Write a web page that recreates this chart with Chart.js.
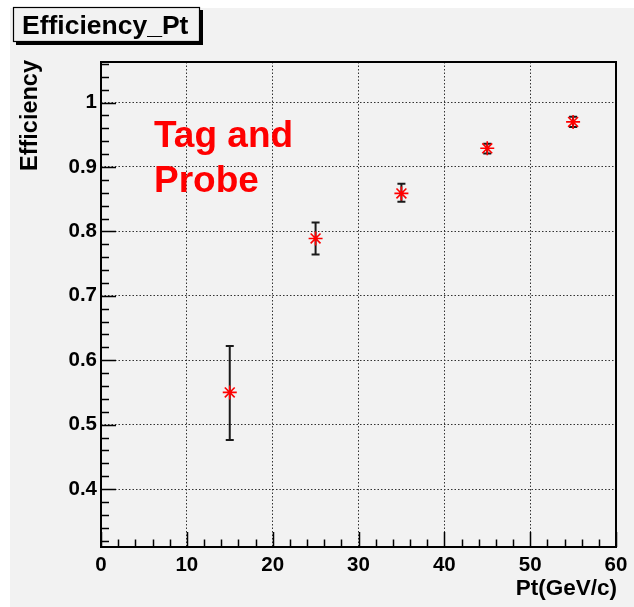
<!DOCTYPE html>
<html>
<head>
<meta charset="utf-8">
<script src="https://cdn.jsdelivr.net/npm/chart.js@4/dist/chart.umd.min.js"></script>
<style>
html,body{margin:0;padding:0;background:#fff;}
#wrap{position:absolute;left:0;top:0;width:634px;height:607px;}
</style>
</head>
<body>
<div id="wrap"><canvas id="c" width="634" height="607"></canvas></div>
<script>
// ---- data ----
const ptValues = [15, 25, 35, 45, 55];
const efficiency = [0.550, 0.789, 0.859, 0.929, 0.970];
const errUpper = [0.622, 0.814, 0.874, 0.936, 0.978];
const errLower = [0.476, 0.764, 0.846, 0.921, 0.962];
const xTicks = [0, 10, 20, 30, 40, 50, 60];
const yTicks = [0.4, 0.5, 0.6, 0.7, 0.8, 0.9, 1.0];
const titleText = 'Efficiency_Pt';
const xTitle = 'Pt(GeV/c)';
const yTitle = 'Efficiency';
const noteLines = ['Tag and', 'Probe'];

const FONT = '"Liberation Sans", Arial, Helvetica, sans-serif';
const PAD = '#f2f2f2';

const points = ptValues.map((x, i) => ({x: x, y: efficiency[i]}));

const decor = {
  id: 'decor',
  beforeDraw(chart) {
    const ctx = chart.ctx;
    ctx.save();
    ctx.fillStyle = '#ffffff';
    ctx.fillRect(0, 0, chart.width, chart.height);
    ctx.fillStyle = PAD;
    ctx.fillRect(10, 8, chart.width - 10, chart.height - 8);
    ctx.restore();
  },
  beforeDatasetsDraw(chart) {
    // error bars
    const ctx = chart.ctx, xs = chart.scales.x, ys = chart.scales.y;
    ctx.save();
    ctx.strokeStyle = '#1a1a1a';
    ctx.lineWidth = 2;
    ptValues.forEach((v, i) => {
      const px = xs.getPixelForValue(v);
      const top = ys.getPixelForValue(errUpper[i]);
      const bot = ys.getPixelForValue(errLower[i]);
      ctx.beginPath();
      ctx.moveTo(px, top); ctx.lineTo(px, bot);
      ctx.moveTo(px - 4, top); ctx.lineTo(px + 4, top);
      ctx.moveTo(px - 4, bot); ctx.lineTo(px + 4, bot);
      ctx.stroke();
    });
    ctx.restore();
  },
  afterDraw(chart) {
    const ctx = chart.ctx, xs = chart.scales.x, ys = chart.scales.y;
    const a = chart.chartArea;
    ctx.save();
    // frame
    ctx.strokeStyle = '#000';
    ctx.lineWidth = 2;
    ctx.strokeRect(a.left, a.top, a.right - a.left, a.bottom - a.top);
    // inner ticks x
    ctx.lineWidth = 1.5;
    ctx.beginPath();
    for (let v = xs.min; v <= xs.max + 1e-9; v += 2) {
      const px = Math.round(xs.getPixelForValue(v)) + 0.5;
      const len = (Math.abs(v % 10) < 1e-6) ? 15 : 7.5;
      ctx.moveTo(px, a.bottom); ctx.lineTo(px, a.bottom - len);
    }
    // inner ticks y
    for (let k = 16; k <= 53; k++) {
      const v = k * 0.02;
      if (v < ys.min || v > ys.max) continue;
      const py = Math.round(ys.getPixelForValue(v)) + 0.5;
      const len = (k % 5 === 0) ? 15 : 8;
      ctx.moveTo(a.left, py); ctx.lineTo(a.left + len, py);
    }
    ctx.stroke();

    // axis titles
    ctx.fillStyle = '#000';
    ctx.font = 'bold 22.5px ' + FONT;
    ctx.textAlign = 'right';
    ctx.textBaseline = 'alphabetic';
    ctx.fillText(xTitle, a.right + 1, 595);
    ctx.save();
    ctx.font = 'bold 23.5px ' + FONT;
    ctx.translate(37, 60);
    ctx.rotate(-Math.PI / 2);
    ctx.textAlign = 'right';
    ctx.fillText(yTitle, 0, 0);
    ctx.restore();

    // title box
    ctx.fillStyle = '#000';
    ctx.fillRect(16, 10, 187, 35);
    ctx.fillStyle = PAD;
    ctx.fillRect(13, 7, 187, 35);
    ctx.strokeStyle = '#000';
    ctx.lineWidth = 1.2;
    ctx.strokeRect(13.5, 7.5, 186, 34);
    ctx.fillStyle = '#000';
    ctx.font = 'bold 26.5px ' + FONT;
    ctx.textAlign = 'left';
    ctx.fillText(titleText, 22, 34);

    // note
    ctx.fillStyle = '#ff0000';
    ctx.font = 'bold 37px ' + FONT;
    ctx.fillText(noteLines[0], 154, 147);
    ctx.fillText(noteLines[1], 154, 192);
    ctx.restore();
  }
};

new Chart(document.getElementById('c'), {
  type: 'scatter',
  data: {
    datasets: [{
      data: points,
      pointStyle: 'star',
      pointRadius: 7,
      pointHoverRadius: 7,
      borderColor: '#ff0000',
      backgroundColor: '#ff0000',
      pointBorderWidth: 1.6,
      showLine: false
    }]
  },
  options: {
    responsive: false,
    animation: false,
    events: [],
    layout: {padding: {top: 62, right: 18, left: 0, bottom: 0}},
    plugins: {legend: {display: false}, tooltip: {enabled: false}},
    scales: {
      x: {
        type: 'linear', min: 0, max: 60,
        afterFit(s) { s.height = 60; },
        afterBuildTicks(s) { s.ticks = xTicks.map(v => ({value: v})); },
        grid: {color: '#333', lineWidth: 1, drawTicks: false},
        border: {display: false, dash: [1.5, 2]},
        ticks: {
          padding: 6, color: '#000', maxRotation: 0,
          font: {family: FONT, size: 20.5, weight: 'bold'},
          callback: v => String(v)
        }
      },
      y: {
        type: 'linear', min: 0.31, max: 1.063,
        afterFit(s) { s.width = 101; },
        afterBuildTicks(s) { s.ticks = yTicks.map(v => ({value: v})); },
        grid: {color: '#333', lineWidth: 1, drawTicks: false},
        border: {display: false, dash: [1.5, 2]},
        ticks: {
          padding: 4, color: '#000',
          font: {family: FONT, size: 20.5, weight: 'bold'},
          callback: v => (Math.abs(v - 1) < 1e-9 ? '1' : v.toFixed(1))
        }
      }
    }
  },
  plugins: [decor]
});
</script>
</body>
</html>
